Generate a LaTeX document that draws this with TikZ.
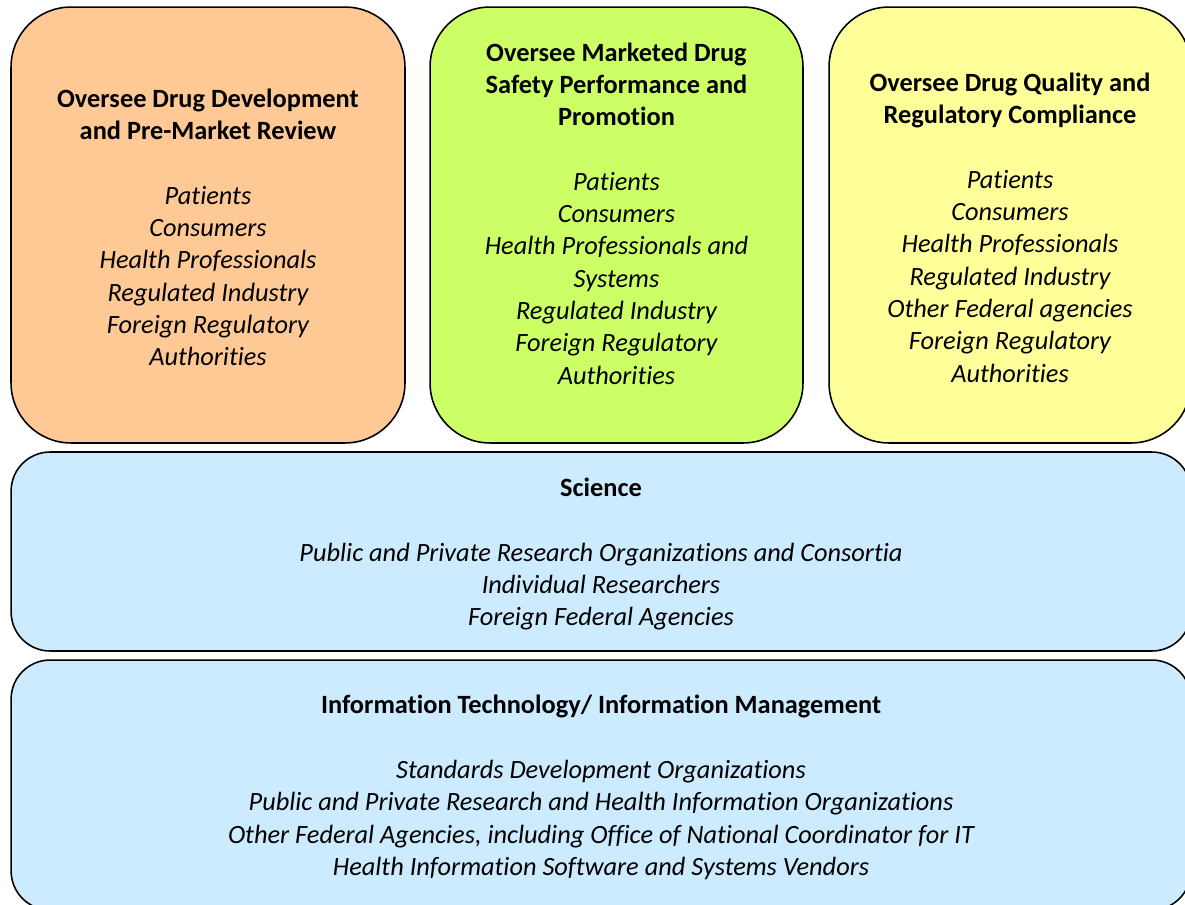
\documentclass[tikz,border=0pt]{standalone}
\usepackage{fontspec}
\setmainfont[Ligatures={NoCommon}]{Carlito}
\usetikzlibrary{positioning}

\definecolor{devfill}{HTML}{FFC996}
\definecolor{mktfill}{HTML}{CCFF66}
\definecolor{qualfill}{HTML}{FFFF99}
\definecolor{bluefill}{HTML}{CCEBFF}

\tikzset{
  areabox/.style={draw=black,line width=0.9pt,rounded corners=1.2cm,
    minimum height=8.72cm,inner sep=0pt},
  widebox/.style={draw=black,line width=0.9pt,rounded corners=0.78cm,
    minimum width=23.6cm,inner sep=0pt,fill=bluefill},
  boxtext/.style={align=center,inner sep=0pt,yshift=-0.05cm,
    font=\fontsize{15}{18.4}\selectfont},
}

\begin{document}
\begin{tikzpicture}[x=0.02cm,y=-0.02cm]
  \useasboundingbox (0,0) rectangle (1185,904);
  \clip (0,0) rectangle (1185,904);

  % three top areas
  \node[areabox,fill=devfill,minimum width=7.88cm] (dev) at (208,225) {};
  \node[areabox,fill=mktfill,minimum width=7.46cm] (mkt) at (616.5,225) {};
  \node[areabox,fill=qualfill,minimum width=7.24cm] (qual) at (1010,225) {};

  \node[boxtext] (devtxt) at (dev.center) {\textbf{Oversee Drug Development}\\\textbf{and Pre-Market Review}\\[18.4pt]
    \itshape Patients\\\itshape Consumers\\\itshape Health Professionals\\\itshape Regulated Industry\\
    \itshape Foreign Regulatory\\\itshape Authorities};
  \node[boxtext,yshift=0.28cm] (mkttxt) at (mkt.center) {\textbf{Oversee Marketed Drug}\\\textbf{Safety Performance and}\\\textbf{Promotion}\\[18.4pt]
    \itshape Patients\\\itshape Consumers\\\itshape Health Professionals and\\\itshape Systems\\
    \itshape Regulated Industry\\\itshape Foreign Regulatory\\\itshape Authorities};
  \node[boxtext] (qualtxt) at (qual.center) {\textbf{Oversee Drug Quality and}\\\textbf{Regulatory Compliance}\\[18.4pt]
    \itshape Patients\\\itshape Consumers\\\itshape Health Professionals\\\itshape Regulated Industry\\
    \itshape Other Federal agencies\\\itshape Foreign Regulatory\\\itshape Authorities};

  % two wide bands underneath
  \node[widebox,minimum height=3.98cm] (sci) at (601,551.5) {};
  \node[widebox,minimum height=5cm] (itm) at (601,785) {};

  \node[boxtext] (scitxt) at (sci.center) {\textbf{Science}\\[18.4pt]
    \itshape Public and Private Research Organizations and Consortia\\
    \itshape Individual Researchers\\\itshape Foreign Federal Agencies};
  \node[boxtext] (itmtxt) at (itm.center) {\textbf{Information Technology/ Information Management}\\[18.4pt]
    \itshape Standards Development Organizations\\
    \itshape Public and Private Research and Health Information Organizations\\
    \itshape Other Federal Agencies, including Office of National Coordinator for IT\\
    \itshape Health Information Software and Systems Vendors};
\end{tikzpicture}
\end{document}
